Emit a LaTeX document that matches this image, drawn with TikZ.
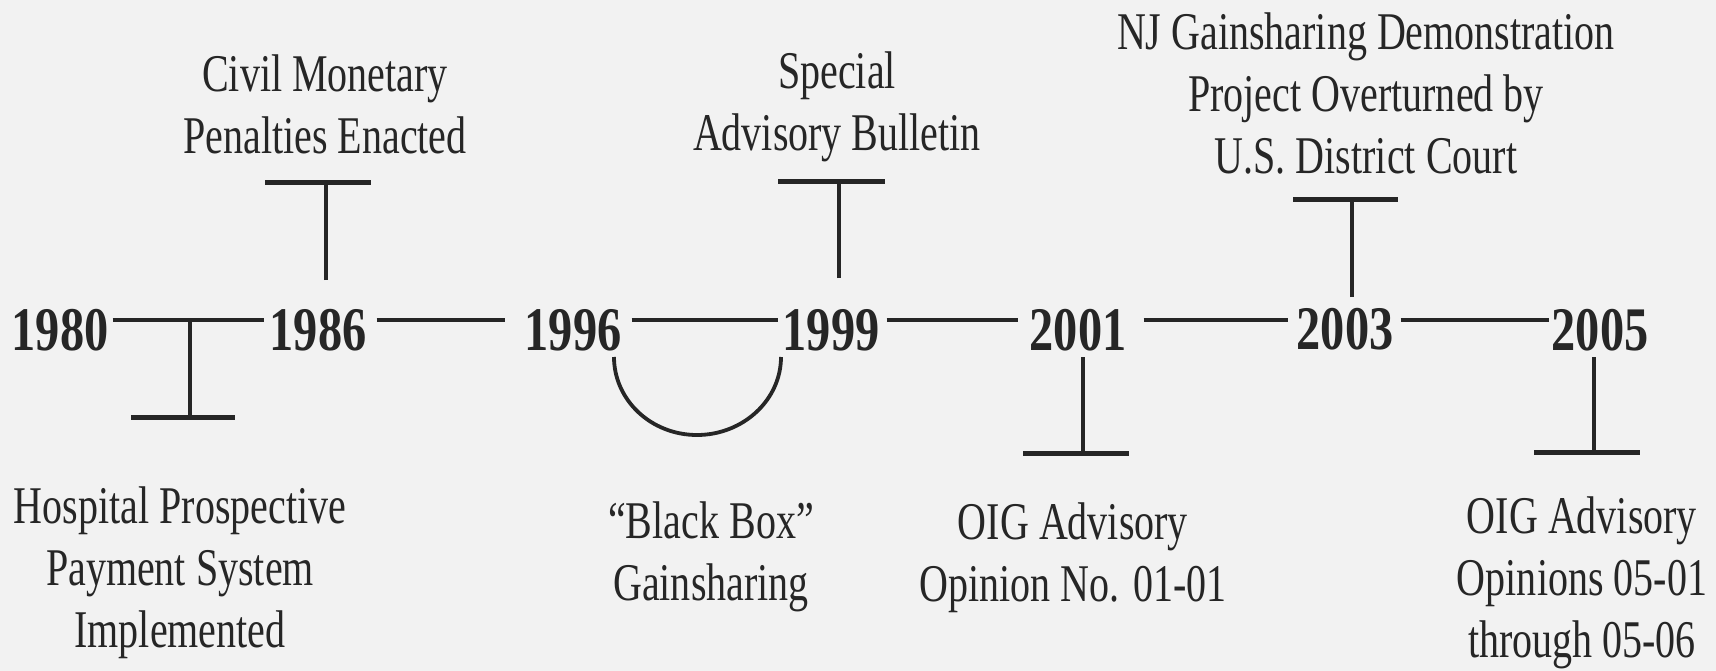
\documentclass[tikz,border=0pt]{standalone}
\usepackage{fontspec}
\setmainfont{Liberation Serif}
\newfontfamily\labelfont[FakeStretch=0.755]{Liberation Serif}
\newfontfamily\yearfont[FakeStretch=0.78]{Liberation Serif}
\definecolor{ink}{RGB}{38,38,38}
\definecolor{paper}{RGB}{242,242,242}
\tikzset{
  year/.style={font=\yearfont\bfseries\fontsize{62}{62}\selectfont, text=ink, inner sep=0pt},
  event/.style={font=\labelfont\fontsize{53}{62}\selectfont, text=ink, align=center,
                inner sep=0pt, anchor=north},
  link/.style={draw=ink, line width=4.5pt},
  stem/.style={draw=ink, line width=3.4pt},
  bar/.style={rectangle, fill=ink, draw=none, inner sep=0pt, minimum height=5pt},
  bracket/.style={draw=ink, line width=3.8pt},
}
\begin{document}
\begin{tikzpicture}[x=1pt, y=-1pt]
  \useasboundingbox (0,0) rectangle (1716,671);
  \fill[paper] (0,0) rectangle (1716,671);

  % years along the axis
  \node[year] (y1980) at (60,330)   {1980};
  \node[year] (y1986) at (318,330)  {1986};
  \node[year] (y1996) at (573,330)  {1996};
  \node[year] (y1999) at (831,330)  {1999};
  \node[year] (y2001) at (1078,330) {2001};
  \node[year] (y2003) at (1345,329) {2003};
  \node[year] (y2005) at (1600,330) {2005};

  % axis segments between consecutive years
  \coordinate (axis) at (0,320);
  \draw[link, shorten <=4pt,  shorten >=5pt]  (y1980.east |- axis) -- (y1986.west |- axis);
  \draw[link, shorten <=10pt, shorten >=19pt] (y1986.east |- axis) -- (y1996.west |- axis);
  \draw[link, shorten <=10pt, shorten >=4pt]  (y1996.east |- axis) -- (y1999.west |- axis);
  \draw[link, shorten <=7pt,  shorten >=11pt] (y1999.east |- axis) -- (y2001.west |- axis);
  \draw[link, shorten <=17pt, shorten >=8pt]  (y2001.east |- axis) -- (y2003.west |- axis);
  \draw[link, shorten <=7pt,  shorten >=2pt]  (y2003.east |- axis) -- (y2005.west |- axis);

  % end bars of the event markers
  \node[bar, minimum width=104pt] (k1980) at (183,417)  {};
  \node[bar, minimum width=106pt] (k1986) at (318,183)  {};
  \node[bar, minimum width=107pt] (k1999) at (831,182)  {};
  \node[bar, minimum width=106pt] (k2001) at (1076,453) {};
  \node[bar, minimum width=105pt] (k2003) at (1345,200) {};
  \node[bar, minimum width=106pt] (k2005) at (1587,452) {};

  % stems from the axis to the bars
  \coordinate (s1980) at (190,320);
  \coordinate (s1986) at (326,280);
  \coordinate (s1999) at (839,278);
  \coordinate (s2001) at (1083,357);
  \coordinate (s2003) at (1352,297);
  \coordinate (s2005) at (1594,357);
  \draw[stem] (s1980) -- (s1980 |- k1980.center);
  \draw[stem] (s1986) -- (s1986 |- k1986.center);
  \draw[stem] (s1999) -- (s1999 |- k1999.center);
  \draw[stem] (s2001) -- (s2001 |- k2001.center);
  \draw[stem] (s2003) -- (s2003 |- k2003.center);
  \draw[stem] (s2005) -- (s2005 |- k2005.center);

  % bracket spanning 1996 to 1999
  \coordinate (a1) at (614,357);
  \coordinate (a0) at (697,435);
  \coordinate (a2) at (781,357);
  \draw[bracket] (a1) .. controls (614,400) and (651,435) .. (a0)
                      .. controls (743,435) and (781,400) .. (a2);

  % event descriptions
  \node[event] (e1980) at (180,487)  {Hospital Prospective\\Payment System\\Implemented};
  \node[event] (e1986) at (325,55)   {Civil Monetary\\Penalties Enacted};
  \node[event] (e1996) at (711,502)  {“Black Box”\\Gainsharing};
  \node[event] (e1999) at (837,52)   {Special\\Advisory Bulletin};
  \node[event] (e2001) at (1073,503) {OIG Advisory\\Opinion No. 01-01};
  \node[event] (e2003) at (1366,13)  {NJ Gainsharing Demonstration\\Project Overturned by\\U.S. District Court};
  \node[event] (e2005) at (1582,497) {OIG Advisory\\Opinions 05-01\\through 05-06};
\end{tikzpicture}
\end{document}
